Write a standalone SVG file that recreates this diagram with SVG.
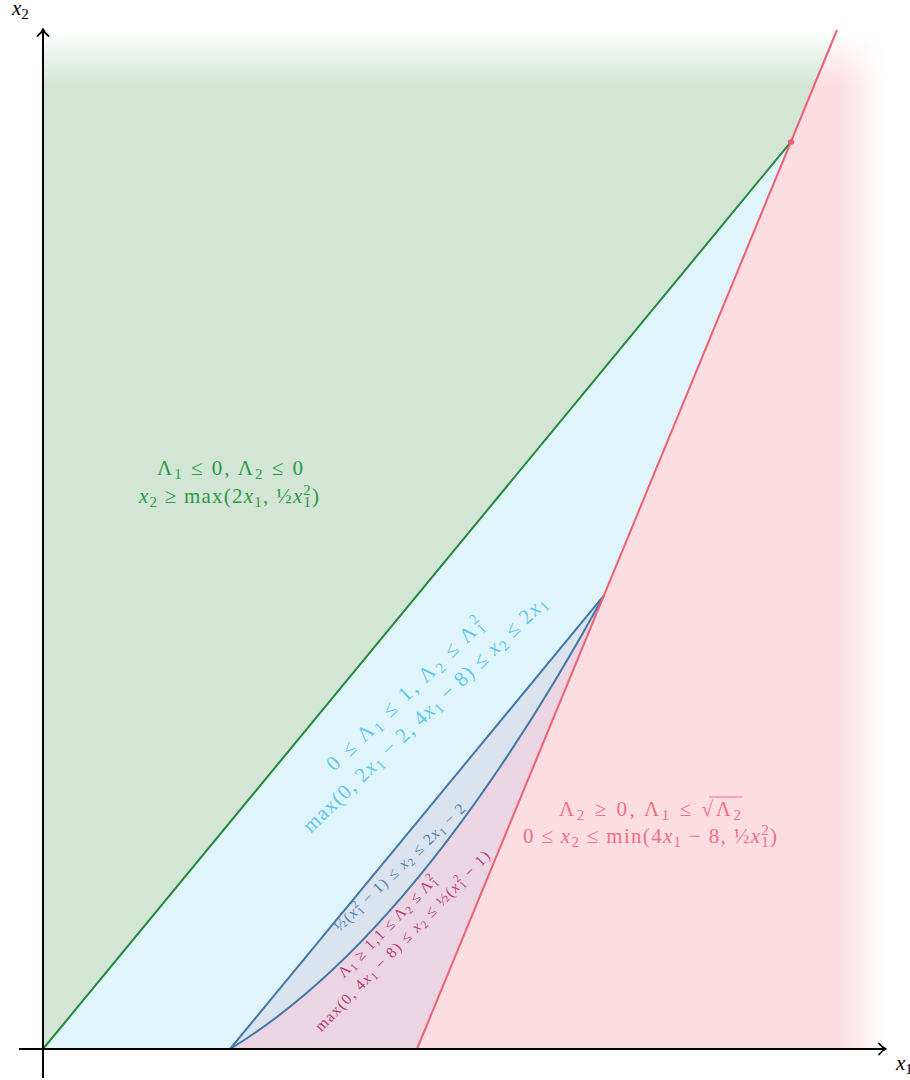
<svg xmlns="http://www.w3.org/2000/svg" width="910" height="1080" viewBox="0 0 910 1080">
<style>
.t{font-family:"Liberation Serif","DejaVu Serif",serif;font-size:21px}
.s{font-size:15px}
.u{font-size:11px}
.i{font-style:italic}
.ax{fill:none;stroke:#000;stroke-width:2}
.ah{fill:none;stroke:#000;stroke-width:1.8;stroke-linecap:round;stroke-linejoin:round}
</style>
<defs>
<linearGradient id="gv" x1="0" y1="30" x2="0" y2="86" gradientUnits="userSpaceOnUse"><stop offset="0" stop-color="#000"/><stop offset="1" stop-color="#fff"/></linearGradient>
<linearGradient id="gh" x1="838" y1="0" x2="886" y2="0" gradientUnits="userSpaceOnUse"><stop offset="0" stop-color="#fff"/><stop offset="1" stop-color="#000"/></linearGradient>
<mask id="mv" maskUnits="userSpaceOnUse" x="0" y="0" width="910" height="1080"><rect width="910" height="1080" fill="url(#gv)"/></mask>
<mask id="mh" maskUnits="userSpaceOnUse" x="0" y="0" width="910" height="1080"><rect width="910" height="1080" fill="url(#gh)"/></mask>
</defs>
<rect width="910" height="1080" fill="#fff"/>
<g id="regions" mask="url(#mv)"><g mask="url(#mh)">
<path id="green-region" d="M43,1049 L791,141.8 L837,30 L43,30 Z" fill="#d3e6d5"/>
<path id="pink-region" d="M417,1049 L837,30 L905,30 L905,1049 Z" fill="#fcdde2"/>
</g></g>
<path id="cyan-region" d="M43,1049 L230,1049 L604,595.4 L791,141.8 Z" fill="#e0f4fb"/>
<path id="blue-region" d="M230,1049 L604,595.4 Q417,935.6 230,1049 Z" fill="#dae3ee"/>
<path id="magenta-region" d="M230,1049 Q417,935.6 604,595.4 L417,1049 Z" fill="#ecd5e3"/>
<g id="connectors" fill="none" stroke-width="2">
<line x1="43" y1="1049" x2="791" y2="141.8" stroke="#23883a"/>
<path d="M230,1049 L604,595.4" stroke="#4278a8"/>
<path d="M230,1049 Q417,935.6 604,595.4" stroke="#4278a8"/>
<line x1="417" y1="1049" x2="837" y2="30" stroke="#ee5f73"/>
</g>
<ellipse id="dot" cx="791" cy="142" rx="3.2" ry="2.8" fill="#ee5f73"/>
<g id="axes">
<line class="ax" x1="43" y1="1078" x2="43" y2="30"/>
<path class="ah" d="M37.5,36 C40,34 42,32 43,29 C44,32 46,34 48.5,36"/>
<line class="ax" x1="19" y1="1049" x2="884" y2="1049"/>
<path class="ah" d="M879,1043.5 C881,1046 883,1048 886,1049 C883,1050 881,1052 879,1054.5"/>
<text class="t" x="12" y="15"><tspan class="i">x</tspan><tspan class="s" dy="4">2</tspan></text>
<text class="t" x="896" y="1070"><tspan class="i">x</tspan><tspan class="s" dy="4">1</tspan></text>
</g>
<g id="label-green" class="t" fill="#2a9a45" text-anchor="middle">
<text x="230" y="475" textLength="146" lengthAdjust="spacing">Λ<tspan class="s" dy="4">1</tspan><tspan dy="-4"> ≤ 0,  Λ</tspan><tspan class="s" dy="4">2</tspan><tspan dy="-4"> ≤ 0</tspan></text>
<text x="229" y="503" textLength="180" lengthAdjust="spacing"><tspan class="i">x</tspan><tspan class="s" dy="4">2</tspan><tspan dy="-4"> ≥ max(2</tspan><tspan class="i">x</tspan><tspan class="s" dy="4">1</tspan><tspan dy="-4">, ½</tspan><tspan class="i">x</tspan><tspan class="s" dy="4">1</tspan><tspan class="s" dx="-9" dy="-12">2</tspan><tspan dy="8">)</tspan></text>
</g>
<g id="label-pink" class="t" fill="#ef6f80" text-anchor="middle">
<text x="650" y="816" textLength="182" lengthAdjust="spacing">Λ<tspan class="s" dy="4">2</tspan><tspan dy="-4"> ≥ 0,  Λ</tspan><tspan class="s" dy="4">1</tspan><tspan dy="-4"> ≤ √Λ</tspan><tspan class="s" dy="4">2</tspan></text>
<line x1="709" y1="797" x2="742" y2="797" stroke="#ef6f80" stroke-width="1.2"/>
<text x="650" y="843" textLength="254" lengthAdjust="spacing">0 ≤ <tspan class="i">x</tspan><tspan class="s" dy="4">2</tspan><tspan dy="-4"> ≤ min(4</tspan><tspan class="i">x</tspan><tspan class="s" dy="4">1</tspan><tspan dy="-4"> − 8, ½</tspan><tspan class="i">x</tspan><tspan class="s" dy="4">1</tspan><tspan class="s" dx="-9" dy="-12">2</tspan><tspan dy="8">)</tspan></text>
</g>
<g id="label-cyan" class="t" fill="#5cc8ef" text-anchor="middle" transform="translate(410,699) rotate(-44)">
<text x="0" y="0" textLength="212" lengthAdjust="spacing">0 ≤ Λ<tspan class="s" dy="4">1</tspan><tspan dy="-4"> ≤ 1, Λ</tspan><tspan class="s" dy="4">2</tspan><tspan dy="-4"> ≤ Λ</tspan><tspan class="s" dy="4">1</tspan><tspan class="s" dx="-9" dy="-12">2</tspan></text>
<text x="0" y="28" textLength="330" lengthAdjust="spacing">max(0, 2<tspan class="i">x</tspan><tspan class="s" dy="4">1</tspan><tspan dy="-4"> − 2, 4</tspan><tspan class="i">x</tspan><tspan class="s" dy="4">1</tspan><tspan dy="-4"> − 8) ≤ </tspan><tspan class="i">x</tspan><tspan class="s" dy="4">2</tspan><tspan dy="-4"> ≤ 2</tspan><tspan class="i">x</tspan><tspan class="s" dy="4">1</tspan></text>
</g>
<g id="label-blue" class="t" fill="#4f7fae" text-anchor="middle" transform="translate(403,871) rotate(-44)" style="font-size:15.5px">
<text x="0" y="0" textLength="176" lengthAdjust="spacing">½(<tspan class="i">x</tspan><tspan class="u" dy="3">1</tspan><tspan class="u" dx="-6.5" dy="-9">2</tspan><tspan dy="6"> − 1) ≤ </tspan><tspan class="i">x</tspan><tspan class="u" dy="3">2</tspan><tspan dy="-3"> ≤ 2</tspan><tspan class="i">x</tspan><tspan class="u" dy="3">1</tspan><tspan dy="-3"> − 2</tspan></text>
</g>
<g id="label-magenta" class="t" fill="#b8387a" text-anchor="middle" transform="translate(391,930) rotate(-46)" style="font-size:15.5px">
<text x="0" y="0" textLength="136" lengthAdjust="spacing">Λ<tspan class="u" dy="3">1</tspan><tspan dy="-3"> ≥ 1,1 ≤ Λ</tspan><tspan class="u" dy="3">2</tspan><tspan dy="-3"> ≤ Λ</tspan><tspan class="u" dy="3">1</tspan><tspan class="u" dx="-6.5" dy="-9">2</tspan></text>
<text x="0" y="21" textLength="244" lengthAdjust="spacing">max(0, 4<tspan class="i">x</tspan><tspan class="u" dy="3">1</tspan><tspan dy="-3"> − 8) ≤ </tspan><tspan class="i">x</tspan><tspan class="u" dy="3">2</tspan><tspan dy="-3"> ≤ ½(</tspan><tspan class="i">x</tspan><tspan class="u" dy="3">1</tspan><tspan class="u" dx="-6.5" dy="-9">2</tspan><tspan dy="6"> − 1)</tspan></text>
</g>
</svg>
